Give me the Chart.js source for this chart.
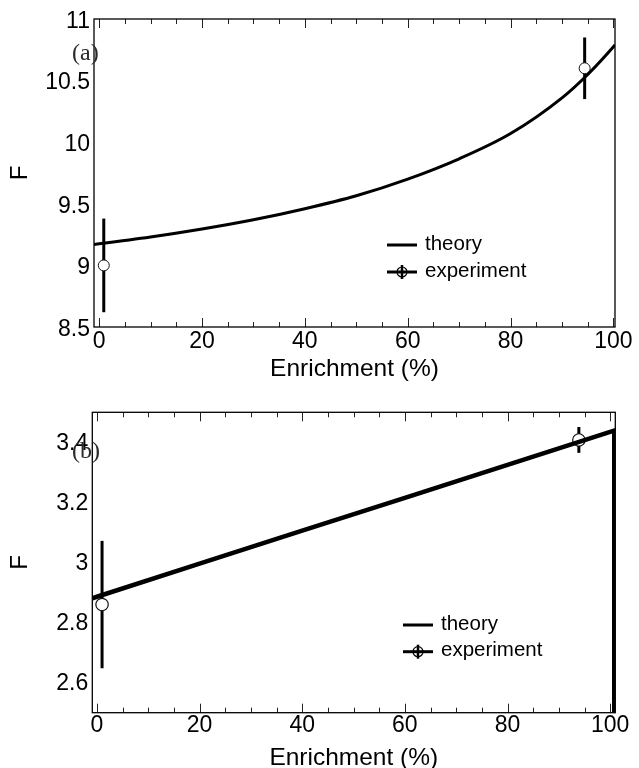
<!DOCTYPE html>
<html>
<head>
<meta charset="utf-8">
<script src="https://cdn.jsdelivr.net/npm/chart.js@4.4.1/dist/chart.umd.min.js"></script>
<style>
  html, body { margin: 0; padding: 0; background: #fff; }
  #wrap { position: relative; width: 639px; height: 768px; }
  canvas { position: absolute; left: 0; display: block; }
  #ca { top: 0; }
  #cb { top: 385px; }
</style>
</head>
<body>
<div id="wrap">
  <canvas id="ca" width="639" height="385"></canvas>
  <canvas id="cb" width="639" height="383"></canvas>
</div>
<script>
// ---- Panel (a) ----
const theoryEnrichA = [-1, 0, 10, 20, 30, 40, 50, 60, 70, 80, 90, 95, 100, 100.3];
const theoryFA      = [9.17, 9.175, 9.23, 9.295, 9.37, 9.46, 9.565, 9.7, 9.865, 10.07, 10.36, 10.55, 10.775, 10.79];
const expEnrichA = [0.9, 94.4];
const expFA      = [9.0, 10.6];
const expErrA    = [0.38, 0.25];
const yTicksA    = [8.5, 9, 9.5, 10, 10.5, 11];

// ---- Panel (b) ----
const theoryEnrichB = [-0.9, 0, 20, 40, 60, 80, 100, 100.8, 100.8];
const theoryFB      = [2.881, 2.886, 2.996, 3.106, 3.215, 3.325, 3.435, 3.439, 2.5];
const expEnrichB = [1.0, 93.9];
const expFB      = [2.86, 3.408];
const expErrB    = [0.212, 0.043];
const yTicksB    = [2.6, 2.8, 3, 3.2, 3.4];

// ---- shared axis ticks ----
const xTicks = [0, 20, 40, 60, 80, 100];
const xMinorStep = 5;

const SANS = '"Liberation Sans", Arial, sans-serif';
const SERIF = '"Liberation Serif", "Times New Roman", serif';

// Frame, inward tick marks, error bars, panel tag and legend
const decor = {
  id: 'decor',
  beforeDatasetsDraw(chart, args, o) {
    const { ctx, scales: { x, y } } = chart;
    ctx.save();
    ctx.strokeStyle = '#000';
    ctx.lineWidth = o.barWidth;
    ctx.lineCap = 'butt';
    o.ex.forEach((v, i) => {
      const px = x.getPixelForValue(v);
      ctx.beginPath();
      ctx.moveTo(px, y.getPixelForValue(o.ey[i] - o.err[i]));
      ctx.lineTo(px, y.getPixelForValue(o.ey[i] + o.err[i]));
      ctx.stroke();
    });
    ctx.restore();
  },
  afterDraw(chart, args, o) {
    const { ctx, chartArea: a, scales: { x } } = chart;
    ctx.save();
    // tick marks on top and bottom edges, pointing inward
    ctx.strokeStyle = '#222';
    ctx.lineWidth = 1;
    for (let v = xTicks[0]; v <= xTicks[xTicks.length - 1]; v += xMinorStep) {
      const px = Math.round(x.getPixelForValue(v)) + 0.5;
      const len = xTicks.includes(v) ? 9 : 5;
      ctx.beginPath();
      ctx.moveTo(px, a.top); ctx.lineTo(px, a.top + len);
      ctx.moveTo(px, a.bottom); ctx.lineTo(px, a.bottom - len);
      ctx.stroke();
    }
    // plot frame
    ctx.strokeStyle = '#000';
    ctx.lineWidth = 1.3;
    ctx.strokeRect(a.left, a.top, a.right - a.left, a.bottom - a.top);

    // panel tag
    ctx.fillStyle = '#2a2a2a';
    ctx.font = '24px ' + SERIF;
    ctx.textAlign = 'left';
    ctx.textBaseline = 'middle';
    ctx.fillText(o.tag, o.tagX, o.tagY);

    // legend
    const L = o.legend;
    const ds = chart.data.datasets;
    ctx.strokeStyle = '#000';
    ctx.lineWidth = 3;
    ctx.beginPath();
    ctx.moveTo(L.x, L.y); ctx.lineTo(L.x + 30, L.y);
    ctx.stroke();
    const y2 = L.y + L.gap;
    ctx.beginPath();
    ctx.moveTo(L.x, y2); ctx.lineTo(L.x + 30, y2);
    ctx.stroke();
    ctx.lineWidth = 1.2;
    ctx.beginPath();
    ctx.arc(L.x + 15, y2, 5, 0, Math.PI * 2);
    ctx.stroke();
    ctx.lineWidth = 2.5;
    ctx.beginPath();
    ctx.moveTo(L.x + 15, y2 - 7); ctx.lineTo(L.x + 15, y2 + 7);
    ctx.stroke();
    ctx.fillStyle = '#000';
    ctx.font = '20.5px ' + SANS;
    ctx.fillText(ds[0].label, L.x + 38, L.y - 1);
    ctx.fillText(ds[1].label, L.x + 38, y2 - 1);
    ctx.restore();
  }
};

function makeChart(id, cfg) {
  const pts = (xs, ys) => xs.map((v, i) => ({ x: v, y: ys[i] }));
  return new Chart(document.getElementById(id), {
    type: 'scatter',
    data: {
      datasets: [
        {
          label: 'theory',
          type: 'line',
          data: pts(cfg.tx, cfg.ty),
          borderColor: '#000',
          borderWidth: cfg.lineWidth,
          pointRadius: 0,
          fill: false,
          cubicInterpolationMode: cfg.monotone ? 'monotone' : 'default',
          tension: 0,
          order: 0
        },
        {
          label: 'experiment',
          data: pts(cfg.ex, cfg.ey),
          showLine: false,
          pointRadius: cfg.radius,
          pointBackgroundColor: '#fff',
          pointBorderColor: '#111',
          pointBorderWidth: cfg.circleBorder,
          order: 1
        }
      ]
    },
    options: {
      responsive: false,
      animation: false,
      devicePixelRatio: 1,
      layout: { padding: cfg.padding },
      plugins: {
        legend: { display: false },
        tooltip: { enabled: false },
        decor: {
          ex: cfg.ex, ey: cfg.ey, err: cfg.err, barWidth: 3,
          tag: cfg.tag, tagX: cfg.tagX, tagY: cfg.tagY,
          legend: cfg.legend
        }
      },
      scales: {
        x: {
          type: 'linear',
          min: cfg.xmin, max: cfg.xmax,
          afterBuildTicks: s => { s.ticks = xTicks.map(v => ({ value: v })); },
          afterFit: s => { s.height = cfg.xHeight; },
          grid: { display: false, drawTicks: false },
          border: { display: false },
          ticks: {
            autoSkip: false, maxRotation: 0,
            padding: cfg.xTickPad,
            color: '#000',
            font: { family: SANS, size: 23, lineHeight: 1 },
            callback: v => String(v)
          },
          title: {
            display: true, text: 'Enrichment (%)', color: '#000',
            font: { family: SANS, size: 24.5, lineHeight: cfg.xTitleLH },
            padding: { top: 0, bottom: cfg.xTitlePad }
          }
        },
        y: {
          type: 'linear',
          min: cfg.ymin, max: cfg.ymax,
          afterBuildTicks: s => { s.ticks = cfg.yTicks.map(v => ({ value: v })); },
          afterFit: s => { s.width = cfg.yWidth; },
          grid: { display: false, drawTicks: false },
          border: { display: false },
          ticks: {
            padding: 4,
            labelOffset: cfg.yLabelOffset,
            color: '#000',
            font: { family: SANS, size: 23, lineHeight: 1.2 },
            callback: v => String(+v.toFixed(2))
          },
          title: {
            display: true, text: 'F', color: '#000',
            font: { family: SANS, size: 24, lineHeight: 1 },
            padding: { top: 8, bottom: 0 }
          }
        }
      }
    },
    plugins: [decor]
  });
}

makeChart('ca', {
  tx: theoryEnrichA, ty: theoryFA, ex: expEnrichA, ey: expFA, err: expErrA,
  yTicks: yTicksA, xmin: -1, xmax: 100.3, ymin: 8.5, ymax: 11,
  lineWidth: 3, monotone: true, radius: 5.5, circleBorder: 1,
  padding: { top: 19, right: 24, bottom: 0, left: 0 },
  xHeight: 58, yWidth: 94, xTickPad: 3.5, xTitlePad: 3.5, xTitleLH: 1,
  yLabelOffset: 2.5,
  tag: '(a)', tagX: 72, tagY: 54,
  legend: { x: 387, y: 245, gap: 27 }
});

makeChart('cb', {
  tx: theoryEnrichB, ty: theoryFB, ex: expEnrichB, ey: expFB, err: expErrB,
  yTicks: yTicksB, xmin: -0.9, xmax: 101, ymin: 2.5, ymax: 3.5,
  lineWidth: 4.5, monotone: false, radius: 6.2, circleBorder: 1.2,
  padding: { top: 27.3, right: 23.7, bottom: 0, left: 0 },
  xHeight: 55.3, yWidth: 92.3, xTickPad: 1, xTitlePad: 0, xTitleLH: 0.82,
  yLabelOffset: 1,
  tag: '(b)', tagX: 72, tagY: 66.5,
  legend: { x: 403, y: 240, gap: 26.7 }
});
</script>
</body>
</html>
